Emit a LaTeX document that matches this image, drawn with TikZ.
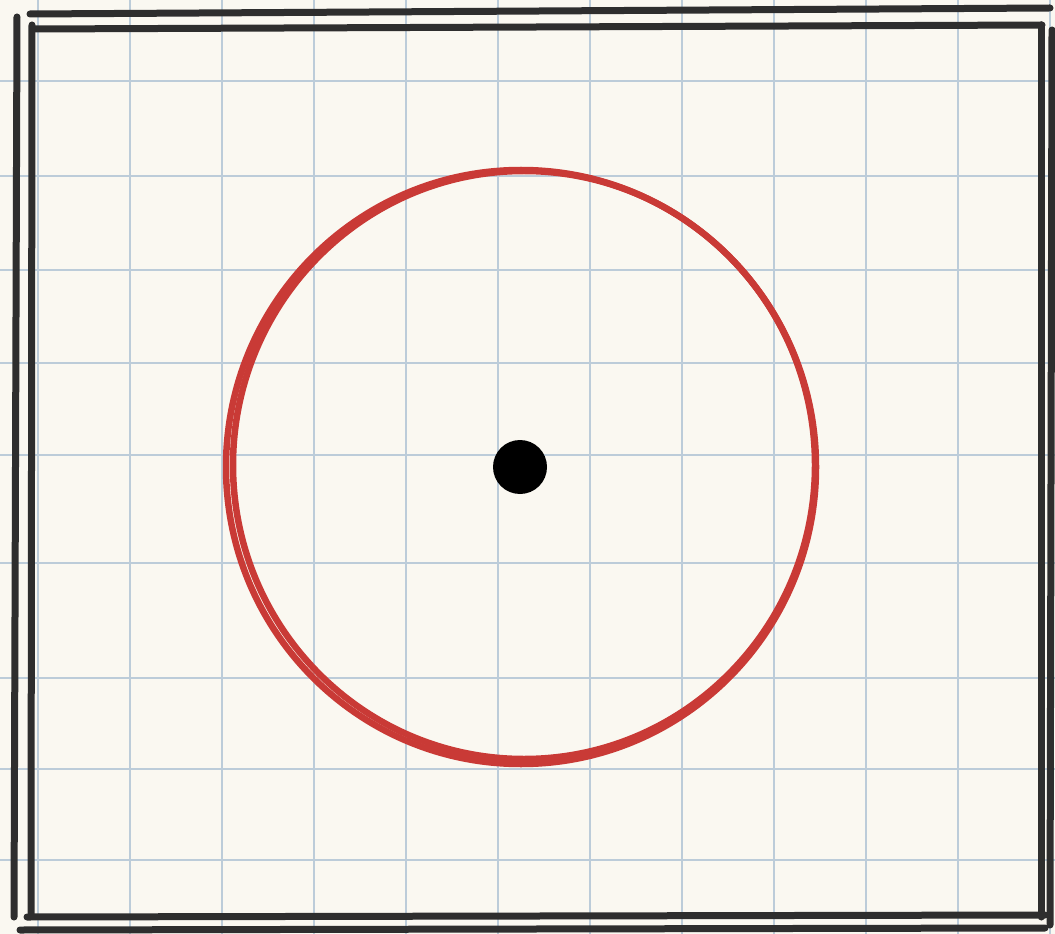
\documentclass[tikz,border=0pt]{standalone}
\definecolor{paper}{HTML}{FAF8F1}
\definecolor{gridblue}{HTML}{BCCCD9}
\definecolor{ink}{HTML}{2E2E2E}
\definecolor{redink}{HTML}{C93A36}
\tikzset{
  gridline/.style={gridblue, line width=0.55mm},
  frameline/.style={ink, line width=1.4mm, line cap=round},
  circstroke/.style={redink, line width=1.3mm},
  centerdot/.style={circle, fill=black, inner sep=0pt, minimum size=10.8mm}
}
\begin{document}
\begin{tikzpicture}[x=0.2mm, y=-0.2mm]
\fill[paper] (0,0) rectangle (1055,934);
\useasboundingbox (0,0) rectangle (1055,934);
% grid
\foreach \x in {38,130,...,1050} \draw[gridline] (\x,0) -- (\x,934);
\foreach \y in {81,176,270,363,455,563,678,769,860} \draw[gridline] (0,\y) -- (1055,\y);
% frame (double hand-drawn lines)
\draw[frameline] (30,14) -- (1050,8);
\draw[frameline] (33,29) -- (1042,25);
\draw[frameline] (17,17) -- (14,917);
\draw[frameline] (32,25) -- (31,916);
\draw[frameline] (27,917) -- (1045,915);
\draw[frameline] (20,930) -- (1045,928);
\draw[frameline] (1041,25) -- (1041,917);
\draw[frameline] (1052,30) -- (1050,925);
% red circle (two overlapping strokes)
\draw[circstroke] (521,467) ellipse [x radius=295, y radius=297];
\draw[circstroke] (524,465) ellipse [x radius=291, y radius=294];
% centre dot
\node[centerdot] (dot) at (520,467) {};
\end{tikzpicture}
\end{document}
